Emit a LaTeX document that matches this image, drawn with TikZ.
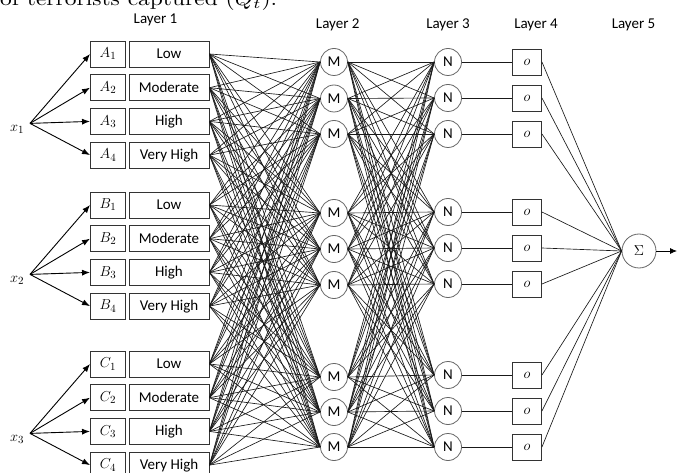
\documentclass[tikz,border=0pt]{standalone}
\usepackage{fontspec}
\usepackage{graphicx}
\newfontfamily\calfont{Carlito}
\usetikzlibrary{arrows.meta}
\begin{document}
\begin{tikzpicture}[x=1pt,y=-1pt,
  mfbox/.style={draw=black!80, line width=0.9pt, minimum width=35pt, minimum height=26pt, inner sep=0pt, font=\fontsize{15}{18}\selectfont},
  termbox/.style={draw=black!80, line width=0.9pt, minimum width=80pt, minimum height=26pt, inner sep=0pt, font=\calfont\fontsize{15}{18}\selectfont},
  rulenode/.style={circle, draw=black!60, line width=0.8pt, minimum size=27pt, inner sep=0pt, font=\calfont\fontsize{15}{18}\selectfont},
  outbox/.style={draw=black!80, line width=0.9pt, minimum width=29pt, minimum height=26pt, inner sep=0pt, font=\fontsize{14}{16}\selectfont},
  sumnode/.style={circle, draw=black!60, line width=0.8pt, minimum size=34pt, inner sep=0pt, font=\fontsize{15}{18}\selectfont},
  conn/.style={line width=0.65pt, black!90},
  inarrow/.style={line width=0.9pt, -{Latex[length=8pt,width=6pt]}},
  outarrow/.style={line width=0.8pt, -{Latex[length=7pt,width=6pt]}},
  title/.style={anchor=base, inner sep=0pt, font=\calfont\fontsize{15}{18}\selectfont},
  inlabel/.style={inner sep=0pt, font=\fontsize{15}{18}\selectfont}]
\useasboundingbox (0,0) rectangle (683,473);

% cut-off caption at the top
\node[anchor=base west, inner sep=0pt] (cap) at (0,5.5) {\resizebox{277pt}{15pt}{of terrorists captured $(Q_t)$.}};

% layer titles
\node[title] (L1) at (155.5,23.3) {Layer 1};
\node[title] (L2) at (337.7,29) {Layer 2};
\node[title] (L3) at (448,29) {Layer 3};
\node[title] (L4) at (536,29) {Layer 4};
\node[title] (L5) at (633.5,29) {Layer 5};

% layer 1
\foreach \g/\s/\n in {A/54/1,B/205/2,C/364/3}{
  \foreach \i/\t in {1/Low,2/Moderate,3/High,4/Very High}{
    \node[mfbox] (\g\i) at (108,{\s+(\i-1)*33.7}) {$\g_\i$};
    \node[termbox] (T\g\i) at (169,{\s+(\i-1)*33.7}) {\t};
  }
  \coordinate (src\n) at (30,{\s+2*33.7+2});
  \node[inlabel] (x\n) at (17,{\s+2*33.7+8}) {$x_\n$};
  \foreach \i in {1,...,4} \draw[inarrow] (src\n) -- (\g\i.west);
}

% layer 2, 3, 4
\foreach \y [count=\k] in {62,98.5,134,213,249,285,377,412,447}
  \node[rulenode] (M\k) at (334,\y) {M};
\foreach \y [count=\k] in {62,98,134,212,248,284,375,411,447}{
  \node[rulenode] (N\k) at (448,\y) {N};
  \node[outbox] (out\k) at (527,\y) {$o$};
}

% layer 5
\node[sumnode] (S) at (639,251) {$\Sigma$};
\coordinate (end) at (677,251);
\draw[outarrow] (S.east) -- (end);

% connections
\foreach \g in {A,B,C}
  \foreach \i in {1,...,4}
    \foreach \k in {1,...,9}
      \draw[conn] (T\g\i.east) -- (M\k.west);
\foreach \j in {1,...,9}
  \foreach \k in {1,...,9}
    \draw[conn] (M\j.east) -- (N\k.west);
\foreach \k in {1,...,9}{
  \draw[conn] (N\k.east) -- (out\k.west);
  \draw[conn] (out\k.east) -- (S.west);
}
\end{tikzpicture}
\end{document}
